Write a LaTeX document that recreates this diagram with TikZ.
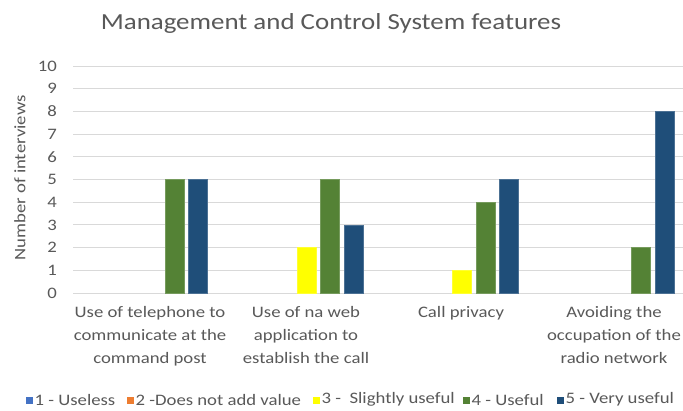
\documentclass[tikz,border=0pt]{standalone}
\usepackage{fontspec}
\setmainfont{Carlito}[FakeStretch=1.17]
\definecolor{txtgray}{HTML}{595959}
\definecolor{gridgray}{HTML}{D9D9D9}
\definecolor{sOne}{HTML}{4472C4}
\definecolor{sTwo}{HTML}{ED7D31}
\definecolor{sThree}{HTML}{FFFF00}
\definecolor{sFour}{HTML}{548235}
\definecolor{sFive}{HTML}{1F4E79}
\begin{document}
\begin{tikzpicture}[x=1pt,y=-1pt,
  lbl/.style={text=txtgray,inner sep=0pt,font=\fontsize{16}{23}\selectfont},
  catlbl/.style={lbl,align=center,anchor=north},
  grid line/.style={draw=gridgray,line width=1pt},
  bar/.style={line width=0.4pt}]
\useasboundingbox (0,0) rectangle (683,410);
\fill[white] (0,0) rectangle (683,410);

% title
\node[lbl,font=\fontsize{23}{27}\selectfont] (title) at (331,23) {Management and Control System features};

% horizontal grid and value labels
\foreach \v in {0,...,10}{
  \draw[grid line] (73,{293-22.7*\v}) -- (683,{293-22.7*\v});
  \node[lbl,anchor=east] (tick\v) at (57,{293-22.7*\v}) {\v};
}
\node[lbl,rotate=90] (ytitle) at (20,178) {Number of interviews};

% bars: category centre, series offset, value
\newcommand{\chartbar}[4]{%
  \fill[#4,draw=#4!80!white,bar] ({#1+(#2-3)*23.5-9.5},293) rectangle ({#1+(#2-3)*23.5+9.5},{293-22.7*#3});}
% category 1
\chartbar{151}{4}{5}{sFour}
\chartbar{151}{5}{5}{sFive}
% category 2
\chartbar{306.5}{3}{2}{sThree}
\chartbar{306.5}{4}{5}{sFour}
\chartbar{306.5}{5}{3}{sFive}
% category 3
\chartbar{462}{3}{1}{sThree}
\chartbar{462}{4}{4}{sFour}
\chartbar{462}{5}{5}{sFive}
% category 4
\chartbar{617.5}{4}{2}{sFour}
\chartbar{617.5}{5}{8}{sFive}

% category labels
\node[catlbl] (cat1) at (150,306) {Use of telephone to\\communicate at the\\command post};
\node[catlbl] (cat2) at (306,306) {Use of na web\\application to\\establish the call};
\node[catlbl] (cat3) at (461,306) {Call privacy};
\node[catlbl] (cat4) at (614,306) {Avoiding the\\occupation of the\\radio network};

% legend
\foreach \x/\c/\t/\n in {26/sOne/{1 - Useless}/l1, 127/sTwo/{2 -Does not add value}/l2,
    313/sThree/{3 -\ \ Slightly useful}/l3, 463/sFour/{4 - Useful}/l4, 557/sFive/{5 - Very useful}/l5}{
  \fill[\c] (\x,396.5) rectangle (\x+7,403.5);
  \node[lbl,anchor=west] (\n) at (\x+8.5,399.5) {\t};
}
\end{tikzpicture}
\end{document}
